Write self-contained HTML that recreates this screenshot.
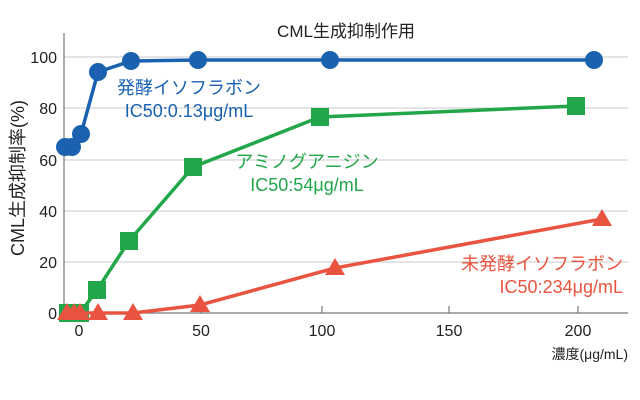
<!DOCTYPE html>
<html><head><meta charset="utf-8"><style>
body{margin:0;background:#fff}
svg{display:block;font-family:"Liberation Sans","Noto Sans CJK JP",sans-serif}
</style></head><body>
<svg width="640" height="400" viewBox="0 0 640 400">
<g stroke="#d4d4d4" stroke-width="1.2">
<line x1="64" y1="57" x2="628" y2="57"/><line x1="64" y1="108" x2="628" y2="108"/>
<line x1="64" y1="160" x2="628" y2="160"/><line x1="64" y1="211" x2="628" y2="211"/>
<line x1="64" y1="262" x2="628" y2="262"/>
</g>
<g stroke="#777" stroke-width="1.2">
<line x1="64" y1="33" x2="64" y2="313"/><line x1="64" y1="313" x2="628" y2="313"/>
<line x1="79" y1="313" x2="79" y2="306"/><line x1="201" y1="313" x2="201" y2="306"/>
<line x1="322" y1="313" x2="322" y2="306"/><line x1="449" y1="313" x2="449" y2="306"/>
<line x1="578" y1="313" x2="578" y2="306"/>
</g>
<g font-size="16" fill="#222" text-anchor="end">
<text x="57" y="63">100</text><text x="57" y="114">80</text><text x="57" y="166">60</text>
<text x="57" y="217">40</text><text x="57" y="268">20</text><text x="57" y="319">0</text>
</g>
<g font-size="16" fill="#222" text-anchor="middle">
<text x="79" y="336">0</text><text x="201" y="336">50</text><text x="322" y="336">100</text>
<text x="449" y="336">150</text><text x="578" y="336">200</text>
</g>
<text x="628" y="359" font-size="14" fill="#222" text-anchor="end">濃度(μg/mL)</text>
<text x="346" y="37" font-size="17" fill="#222" text-anchor="middle">CML生成抑制作用</text>
<text transform="translate(24,178) rotate(-90)" font-size="18" fill="#222" text-anchor="middle">CML生成抑制率(%)</text>
<polyline fill="none" stroke="#1a62b0" stroke-width="3.5" points="65,147 72,147 81,134 98,72 131,61 198,60 330,60 594,60"/>
<g fill="#1a62b0"><circle cx="65" cy="147" r="9"/><circle cx="72" cy="147" r="9"/><circle cx="81" cy="134" r="9"/><circle cx="98" cy="72" r="9"/><circle cx="131" cy="61" r="9"/><circle cx="198" cy="60" r="9"/><circle cx="330" cy="60" r="9"/><circle cx="594" cy="60" r="9"/></g>
<polyline fill="none" stroke="#22a64a" stroke-width="3.5" points="68,313 80,313 97,290 129,241 193,167 320,117 576,106"/>
<g fill="#22a64a"><rect x="59" y="304" width="18" height="18"/><rect x="71" y="304" width="18" height="18"/><rect x="88" y="281" width="18" height="18"/><rect x="120" y="232" width="18" height="18"/><rect x="184" y="158" width="18" height="18"/><rect x="311" y="108" width="18" height="18"/><rect x="567" y="97" width="18" height="18"/></g>
<polyline fill="none" stroke="#e8543f" stroke-width="3.5" points="67,313 74,313 80,313 98,313 133,313 200,305 335,268 602,219"/>
<g fill="#e8543f">
<polygon points="67,303 57,320 77,320"/><polygon points="74,303 64,320 84,320"/><polygon points="80,303 70,320 90,320"/><polygon points="98,303 88,320 108,320"/><polygon points="133,303 123,320 143,320"/><polygon points="200,295 190,312 210,312"/><polygon points="335,258 325,275 345,275"/><polygon points="602,209 592,226 612,226"/></g>
<g font-size="18" fill="#1a62b0" text-anchor="middle"><text x="189" y="94">発酵イソフラボン</text><text x="189" y="117">IC50:0.13μg/mL</text></g>
<g font-size="18" fill="#22a64a" text-anchor="middle"><text x="307" y="168">アミノグアニジン</text><text x="307" y="191">IC50:54μg/mL</text></g>
<g font-size="18" fill="#e8543f" text-anchor="end"><text x="623" y="270">未発酵イソフラボン</text><text x="623" y="293">IC50:234μg/mL</text></g>
</svg>
</body></html>
